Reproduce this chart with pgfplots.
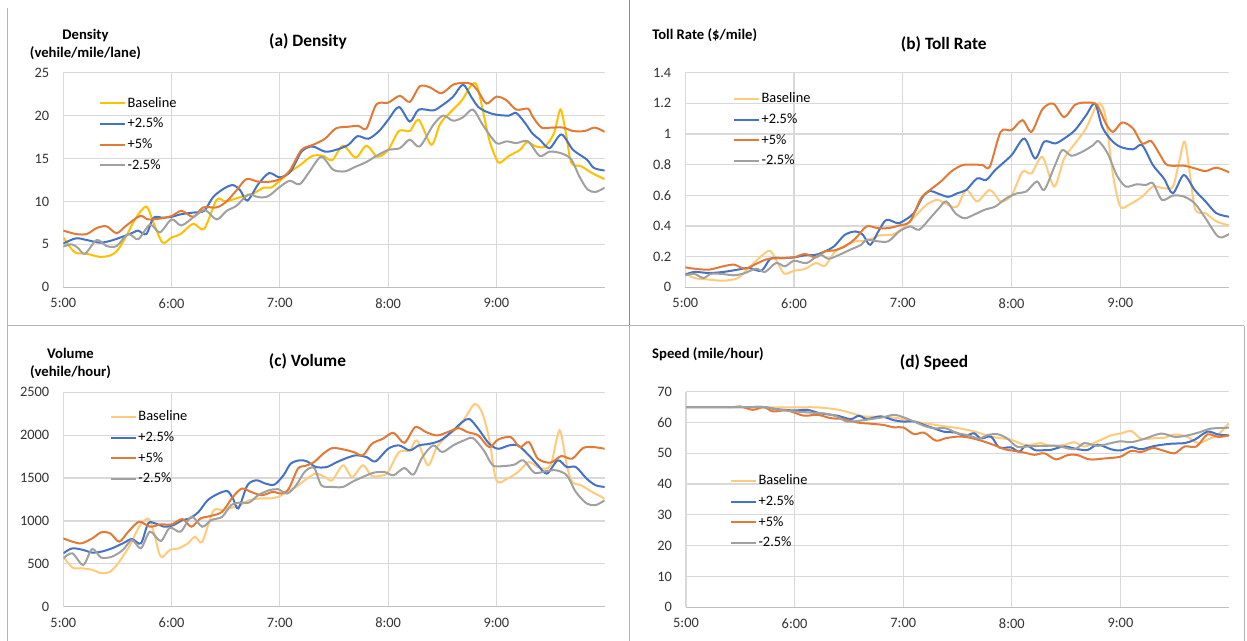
\documentclass[border=0pt]{standalone}
\usepackage{pgfplots}
\pgfplotsset{compat=1.18}
\usepackage{fontspec}
\setmainfont{Carlito}
\definecolor{cbase}{HTML}{FFC000}
\definecolor{cbasel}{HTML}{FFCA7A}
\definecolor{cblue}{HTML}{4472C4}
\definecolor{corange}{HTML}{E07A36}
\definecolor{cgray}{HTML}{A0A0A0}
\definecolor{gridc}{HTML}{D9D9D9}
\definecolor{axc}{HTML}{BFBFBF}
\definecolor{framec}{HTML}{B4B4B4}
\definecolor{framed}{HTML}{8C8C8C}
\pgfplotsset{
  panel/.style={
    scale only axis,
    anchor=south west,
    xmin=0, xmax=300,
    xtick={0,60,120,180,240},
    xticklabels={5:00,6:00,7:00,8:00,9:00},
    grid=major,
    major grid style={draw=gridc, line width=0.9pt},
    major tick length=0pt,
    axis x line*=bottom, axis y line*=left,
    x axis line style={-, draw=axc, line width=0.9pt},
    y axis line style={-, draw=gridc, line width=0.9pt},
    tick label style={font=\fontsize{10.8}{12}\selectfont, text=black!80},
    xticklabel style={yshift=-5pt},
    yticklabel style={xshift=-7pt},
    legend cell align=left,
    legend style={draw=none, fill=none, inner sep=0pt, row sep=3.5pt,
      font=\fontsize{10.8}{12}\selectfont, anchor=north west,
      nodes={inner sep=1pt, text height=8pt, text depth=2pt}},
    legend image code/.code={\draw[##1] (0pt,0pt) -- (18.75pt,0pt);},
    every axis plot/.append style={line width=1.5pt, smooth, no markers},
  }
}
\newcommand{\ttl}{\fontsize{13}{15}\selectfont\bfseries}
\newcommand{\lbl}{\fontsize{11}{13.5}\selectfont\bfseries}
\begin{document}
\begin{tikzpicture}
\path[use as bounding box] (0pt,0pt) rectangle (935.25pt,480.75pt);
% panel frames
\draw[framec, line width=0.75pt] (5.25pt,0pt) -- (5.25pt,474.75pt);
\draw[framed, line width=0.75pt] (471.75pt,236.25pt) -- (471.75pt,480.75pt);
\draw[framec, line width=0.75pt] (471.75pt,0pt) -- (471.75pt,236.25pt);
\draw[framec, line width=0.75pt] (5.25pt,236.25pt) -- (933pt,236.25pt);
\draw[framec, line width=0.75pt] (933pt,0pt) -- (933pt,236.25pt);

% (a) Density
\begin{axis}[panel, at={(47.5pt,265.3pt)}, width=406pt, height=160.95pt,
  ymin=0, ymax=25, ytick={0,5,10,15,20,25}, yticklabels={0,5,10,15,20,25},
  legend style={at={(0.066,0.896)}}]
\addplot[cbase] coordinates {(0,5.8)(4,4.6)(7,4.0)(13,3.9)(20,3.55)(26,3.7)(30,4.3)(35,6.0)(40,8.0)(46,9.4)(50,7.5)(55,5.2)(60,5.8)(65,6.2)(72,7.4)(78,6.8)(85,10.2)(90,10.0)(98,10.5)(105,10.9)(111,11.6)(115,11.6)(120,12.4)(126,13.5)(131,14.2)(138,15.3)(144,15.3)(149,14.8)(155,16.5)(162,15.1)(168,16.5)(174,15.2)(180,16.0)(186,18.2)(192,18.2)(197,19.5)(204,16.6)(209,19.1)(216,20.7)(221,21.8)(226,23.5)(229,23.6)(232,21.1)(236,17.2)(240,14.9)(242,14.5)(247,15.3)(253,16.0)(257,16.9)(262,16.4)(267,16.4)(272,18.0)(275.5,20.7)(278.5,18.0)(281.5,14.5)(287,14.1)(293,13.3)(300,12.6)};
\addlegendentry{Baseline}
\addplot[cblue] coordinates {(0,5.1)(7,5.7)(13,5.5)(20,5.2)(26,5.4)(33,5.9)(39,6.4)(41.5,6.6)(46,6.2)(50,8.1)(55,8.1)(60,8.2)(65,8.5)(72,8.7)(78,8.9)(83,10.5)(89,11.5)(94,11.9)(98,11.3)(102,10.1)(108,12.0)(114,13.3)(120,12.8)(126,13.5)(132,15.8)(138,16.4)(145,15.8)(151,16.0)(158,16.6)(163,17.6)(169,17.3)(175,18.2)(180,19.5)(186,21.0)(192,19.3)(197,20.7)(205,20.6)(210,21.2)(216,22.2)(221.5,23.6)(226,22.2)(230,21.0)(235,20.4)(240,20.1)(247,20.0)(251,20.3)(256,19.1)(260,17.9)(264,17.2)(269.5,16.2)(276,17.8)(282.5,16.0)(290,14.9)(294,13.9)(300,13.6)};
\addlegendentry{+2.5\%}
\addplot[corange] coordinates {(0,6.6)(7,6.2)(13,6.2)(18.5,6.9)(24,7.1)(29.5,6.3)(35,7.2)(42.5,8.3)(47,7.9)(53.5,8.0)(60,8.3)(65.5,8.9)(72,8.2)(77.5,9.3)(85,9.3)(90.5,10.0)(96,11.3)(101.5,12.6)(108,12.3)(114.5,12.3)(120,12.6)(125.5,13.6)(132,16.0)(138.5,16.6)(145,17.3)(151,18.5)(158,18.7)(163.5,18.8)(168,18.5)(173.5,21.3)(180,21.5)(186.5,22.3)(192,21.6)(197.5,23.4)(203,23.3)(209.5,22.6)(216,23.6)(221.5,23.8)(226,23.7)(230,22.8)(234.5,21.4)(240,22.2)(245.5,21.8)(251,20.7)(257.5,20.8)(260,19.9)(265,18.6)(270.5,18.6)(277,18.6)(282.5,18.2)(289,18.2)(294.5,18.6)(300,18.1)};
\addlegendentry{+5\%}
\addplot[cgray] coordinates {(0,4.75)(4.6,5.0)(8,4.6)(12,3.9)(18.5,5.5)(24,4.8)(29.5,4.8)(36,6.2)(41.5,5.6)(48,7.3)(53.5,6.4)(60,7.9)(65.5,7.2)(73,8.3)(78.5,9.0)(85,7.9)(90.5,8.9)(96,9.5)(102.5,10.8)(108,10.5)(113.5,10.6)(120,11.7)(125.5,12.4)(131,12.0)(136.5,13.5)(143,15.2)(149.5,13.7)(156,13.5)(161.5,14.0)(168,14.6)(173.5,15.3)(180,16.0)(186.5,16.2)(192,17.2)(197.5,16.4)(205,18.9)(210.5,20.0)(216,19.4)(221.5,19.8)(227,20.7)(232.5,18.9)(240,16.8)(245.5,17.0)(251,16.8)(257.5,17.0)(264,15.3)(269.5,15.8)(276,15.6)(281.5,14.9)(286,12.9)(290.5,11.4)(295,11.1)(300,11.6)};
\addlegendentry{-2.5\%}
\end{axis}

% (b) Toll rate
\begin{axis}[panel, at={(514pt,265.3pt)}, width=407.8pt, height=160.95pt,
  ymin=0, ymax=1.4, ytick={0,0.2,0.4,0.6,0.8,1,1.2,1.4}, yticklabels={0,0.2,0.4,0.6,0.8,1,1.2,1.4},
  legend style={at={(0.0877,0.916)}}]
\addplot[cbasel] coordinates {(0,0.093)(5,0.06)(13,0.05)(21,0.043)(29,0.06)(35,0.126)(41.6,0.20)(46.6,0.238)(50.5,0.17)(54.5,0.089)(60,0.108)(66,0.12)(72,0.158)(77,0.14)(82,0.223)(87,0.266)(94,0.30)(100,0.303)(107,0.338)(114,0.342)(120,0.386)(126.5,0.46)(133,0.537)(139,0.57)(145,0.537)(150,0.527)(155,0.635)(161,0.56)(168,0.635)(174,0.56)(180,0.60)(186,0.754)(191,0.743)(197,0.85)(203.5,0.657)(209,0.84)(215,0.938)(221,1.035)(226,1.166)(229,1.198)(232,1.10)(236,0.73)(240,0.527)(245,0.54)(252,0.59)(258,0.657)(264,0.646)(269,0.657)(272.5,0.82)(275.5,0.95)(278.5,0.73)(281.4,0.505)(287,0.483)(293,0.43)(300,0.403)};
\addlegendentry{Baseline}
\addplot[cblue] coordinates {(0,0.082)(5,0.10)(13,0.093)(21,0.10)(29,0.115)(35,0.126)(42,0.108)(47,0.186)(54,0.19)(60,0.195)(66,0.208)(72,0.212)(77,0.234)(82,0.266)(88,0.342)(94,0.364)(98,0.342)(102,0.277)(107,0.375)(111,0.44)(117,0.418)(120,0.43)(126,0.483)(131,0.59)(135,0.628)(139,0.613)(145,0.59)(150,0.613)(155,0.635)(161,0.71)(166,0.70)(171,0.765)(180,0.862)(187,0.97)(193,0.84)(198,0.95)(204,0.938)(209,0.97)(215,1.025)(221,1.12)(226,1.198)(230,1.046)(235,0.96)(240,0.916)(247,0.90)(252,0.927)(258,0.797)(264,0.71)(269,0.613)(275,0.732)(281,0.635)(287,0.56)(293,0.483)(300,0.46)};
\addlegendentry{+2.5\%}
\addplot[corange] coordinates {(0,0.13)(5,0.121)(13,0.115)(21,0.137)(27,0.147)(33,0.121)(40,0.158)(46,0.186)(54,0.19)(60,0.195)(66,0.217)(72,0.195)(77,0.234)(82,0.24)(88,0.266)(94,0.32)(100,0.397)(106,0.386)(112,0.386)(118,0.403)(124,0.43)(130,0.58)(135,0.635)(141,0.69)(147,0.758)(153,0.797)(159,0.80)(164,0.797)(168,0.787)(174,1.014)(180,1.025)(186,1.09)(191,1.014)(197,1.161)(203,1.198)(209,1.11)(215,1.19)(221,1.205)(227,1.19)(232,1.068)(236,1.014)(241,1.075)(247,1.036)(252,0.938)(257,0.953)(262,0.862)(266,0.797)(275,0.793)(281,0.776)(287,0.758)(293,0.78)(300,0.75)};
\addlegendentry{+5\%}
\addplot[cgray] coordinates {(0,0.078)(5,0.087)(10,0.06)(14,0.087)(20,0.087)(27,0.078)(33,0.093)(39,0.121)(44,0.10)(50,0.158)(55,0.137)(60,0.173)(67,0.158)(74,0.212)(79,0.186)(85,0.212)(91,0.245)(97,0.277)(100,0.31)(106,0.30)(112,0.30)(118,0.364)(124,0.397)(129,0.375)(135,0.45)(140,0.516)(144,0.56)(149,0.483)(154,0.45)(159,0.472)(165,0.505)(171,0.527)(177,0.58)(183,0.613)(188,0.624)(194,0.69)(198,0.635)(204,0.797)(208,0.895)(213,0.858)(219,0.884)(225,0.927)(228,0.953)(233,0.873)(238,0.732)(243,0.657)(249,0.672)(254,0.667)(258,0.678)(263,0.57)(269,0.598)(275,0.592)(281,0.548)(287,0.45)(293,0.342)(296,0.325)(300,0.347)};
\addlegendentry{-2.5\%}
\end{axis}

% (c) Volume
\begin{axis}[panel, at={(47.5pt,25.7pt)}, width=406pt, height=160.8pt,
  ymin=0, ymax=2500, ytick={0,500,1000,1500,2000,2500}, yticklabels={0,500,1000,1500,2000,2500},
  legend style={at={(0.086,0.9235)}}]
\addplot[cbasel] coordinates {(0,584)(5,457)(10,449)(16,430)(21,391)(26,410)(31,526)(37,720)(42,933)(47,1029)(50,875)(54,584)(59,662)(64,681)(69,739)(73,816)(77,758)(83,1115)(88,1126)(93,1153)(98,1184)(103,1242)(109,1262)(114,1262)(119,1281)(124,1339)(129,1397)(135,1494)(140,1552)(145,1513)(149,1474)(155,1649)(160,1513)(166,1649)(171,1525)(177,1533)(180,1571)(186,1803)(192,1823)(196,1939)(202,1649)(207,1861)(213,1997)(219,2094)(224,2248)(228,2365)(232,2268)(236,1958)(240,1474)(246,1494)(252,1571)(258,1687)(264,1618)(270,1649)(275,2055)(279,1649)(282,1455)(287,1416)(293,1339)(300,1262)};
\addlegendentry{Baseline}
\addplot[cblue] coordinates {(0,623)(5,681)(11,662)(16,631)(21,642)(27,681)(33,739)(38,789)(43,739)(47,971)(51,971)(56,933)(61,952)(66,1010)(70,1029)(75,1107)(80,1242)(86,1320)(91,1347)(94,1262)(97,1146)(102,1416)(107,1474)(112,1436)(117,1424)(122,1533)(126,1668)(131,1707)(135,1695)(140,1629)(146,1629)(151,1680)(156,1726)(162,1765)(168,1745)(173,1695)(180,1842)(186,1881)(192,1823)(197,1881)(203,1900)(209,1939)(215,2036)(221,2152)(225,2190)(230,2074)(236,1900)(241,1842)(247,1881)(252,1881)(258,1765)(263,1649)(268,1552)(274,1707)(279,1629)(284,1629)(290,1494)(295,1416)(300,1397)};
\addlegendentry{+2.5\%}
\addplot[corange] coordinates {(0,797)(5,759)(10,739)(16,797)(21,867)(26,855)(31,759)(36,875)(42,991)(48,933)(54,960)(60,960)(66,1022)(71,933)(76,1029)(82,1060)(88,1107)(94,1281)(99,1378)(104,1339)(110,1300)(116,1339)(121,1320)(125,1378)(130,1610)(134,1641)(139,1687)(144,1784)(149,1850)(155,1835)(161,1803)(166,1765)(171,1900)(177,1958)(183,2028)(189,1912)(195,2094)(201,2036)(207,1997)(213,2036)(219,2082)(224,2036)(230,1997)(236,1861)(241,1950)(248,1977)(253,1861)(258,1919)(263,1726)(270,1680)(276,1757)(282,1726)(288,1850)(294,1861)(300,1842)};
\addlegendentry{+5\%}
\addplot[cgray] coordinates {(0,565)(5,623)(11,488)(16,673)(21,573)(27,584)(33,662)(38,778)(43,681)(48,875)(54,766)(59,921)(65,875)(71,1049)(77,933)(82,1010)(88,1049)(93,1184)(98,1215)(103,1215)(108,1300)(114,1358)(119,1370)(124,1320)(129,1416)(134,1579)(139,1618)(143,1416)(149,1397)(155,1397)(160,1455)(166,1513)(172,1563)(178,1571)(183,1533)(189,1618)(194,1540)(199,1745)(205,1881)(210,1803)(216,1881)(222,1939)(227,1966)(233,1823)(238,1649)(244,1641)(250,1657)(255,1707)(261,1563)(267,1579)(273,1591)(279,1533)(284,1339)(290,1204)(295,1184)(300,1242)};
\addlegendentry{-2.5\%}
\end{axis}

% (d) Speed
\begin{axis}[panel, at={(514.5pt,25.3pt)}, width=407.3pt, height=161.7pt,
  ymin=0, ymax=70, ytick={0,10,20,30,40,50,60,70}, yticklabels={0,10,20,30,40,50,60,70},
  legend style={at={(0.081,0.624)}}]
\addplot[cbasel] coordinates {(0,65)(24,65)(46.5,64.9)(60,64.9)(72.5,64.9)(83.5,64.2)(91,63.1)(98,62.0)(109,61.8)(117,61.4)(124,60.5)(131.5,59.8)(141,58.9)(150,58.2)(159,57.1)(168.5,55.4)(174,54.9)(180,54.3)(187,52.7)(191,52.8)(196,53.3)(201.6,52.4)(209,52.7)(214.5,53.6)(220,52.2)(227.4,53.9)(234.8,55.8)(240,56.4)(246,57.2)(251.5,54.7)(259,54.9)(264,55.0)(270,56.1)(277,55.3)(283,53.3)(288,54.4)(294,56.1)(300,59.8)};
\addlegendentry{Baseline}
\addplot[cblue] coordinates {(0,65)(20,65)(35,65)(43,65)(50,64.3)(60,63.9)(67,64.1)(74,63.0)(83.5,62.2)(91,61.1)(95.5,62.2)(100,61.1)(107.5,62.0)(115,60.7)(120,60.3)(126,60.3)(131.5,59.2)(137,58.1)(142.5,57.0)(149,56.7)(154,55.6)(159,56.5)(163,54.8)(168.5,55.4)(173,51.9)(179.5,51.9)(184,50.5)(188,52.5)(193,51.0)(198,51.0)(201.6,51.1)(209,52.2)(216.4,51.3)(222,51.1)(227.4,52.8)(234.8,51.3)(240,50.9)(246,52.0)(251.5,51.3)(259,52.4)(268,53.1)(275.4,53.3)(281,54.4)(288,57.0)(294,56.1)(300,55.8)};
\addlegendentry{+2.5\%}
\addplot[corange] coordinates {(0,65)(25,65)(30,65.2)(37,64.1)(43,65)(48,63.6)(56,63.9)(65,62.2)(72.5,62.5)(80,61.4)(87,61.1)(94.5,60.0)(102,59.6)(109,59.2)(115,58.4)(120,58.4)(126,56.2)(131.5,56.7)(138,54.1)(143.5,54.9)(150,55.4)(155.5,55.2)(163,54.1)(170,52.7)(176,51.3)(180,50.9)(187,50.2)(192.5,49.5)(198,50.0)(204.4,48.0)(210.8,49.4)(216.4,49.4)(222.8,48.0)(231,48.3)(240,48.9)(246,50.8)(251.5,50.4)(258,51.7)(264,50.8)(270,50.0)(275.4,52.2)(282,52.2)(288,56.1)(294,55.3)(300,55.8)};
\addlegendentry{+5\%}
\addplot[cgray] coordinates {(0,65)(20,65)(35,65)(43,65)(52,64.1)(60,63.6)(69,63.2)(78,62.8)(83.5,61.9)(89,60.3)(96.5,60.6)(102,61.1)(109,61.7)(115,62.5)(120,61.7)(126,60.3)(131.5,58.9)(137,58.1)(143.5,58.1)(150,56.5)(155.5,55.9)(162,54.8)(166.5,55.9)(172,56.2)(177.5,54.8)(183,52.1)(190.5,52.3)(198,52.4)(205,52.4)(214.5,51.3)(220,53.3)(227.4,52.4)(234.8,53.3)(240,53.9)(246,53.6)(253.3,54.7)(262.5,56.4)(270,55.3)(277,55.8)(283,56.7)(290,58.0)(300,58.3)};
\addlegendentry{-2.5\%}
\end{axis}

% titles and axis labels
\node[font=\ttl] at (231pt,450pt) {(a) Density};
\node[font=\lbl, align=center] at (64.1pt,447.75pt) {Density\\(vehile/mile/lane)};
\node[font=\ttl] at (707.8pt,447.75pt) {(b) Toll Rate};
\node[font=\lbl] at (528.5pt,454.5pt) {Toll Rate (\$/mile)};
\node[font=\ttl] at (230.6pt,210pt) {(c) Volume};
\node[font=\lbl, align=center] at (52.9pt,208.3pt) {Volume\\(vehile/hour)};
\node[font=\ttl] at (700.5pt,209pt) {(d) Speed};
\node[font=\lbl] at (531pt,215pt) {Speed (mile/hour)};
\end{tikzpicture}
\end{document}
